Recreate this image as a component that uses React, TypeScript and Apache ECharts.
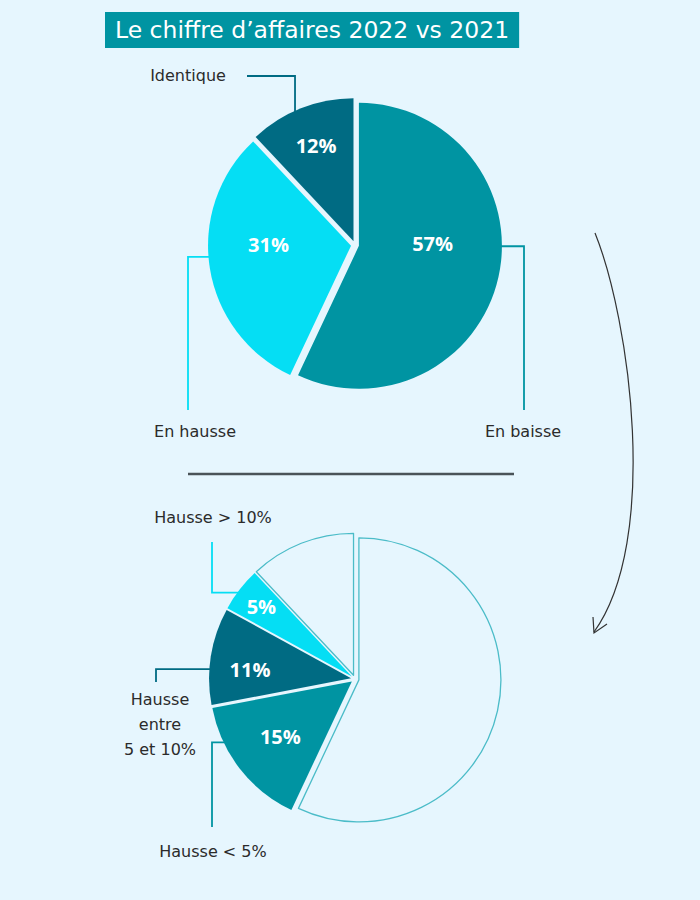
import React, { useEffect, useRef } from "react";
import * as echarts from "echarts";

// ---------- data ----------
const TITLE = "Le chiffre d’affaires 2022 vs 2021";

const TOP_NAMES = ["En baisse", "En hausse", "Identique"];
const TOP_VALUES = [57, 31, 12];

const BOTTOM_NAMES = ["En baisse", "Hausse < 5%", "Hausse\nentre\n5 et 10%", "Hausse > 10%", "Identique"];
const BOTTOM_VALUES = [57, 15, 11, 5, 12];
const BOTTOM_HIGHLIGHT = [false, true, true, true, false];

// ---------- styles ----------
const BG = "#e6f6fe";
const TEAL = "#0094a2";
const CYAN = "#05def4";
const DARK = "#006b83";
const OUTLINE = "#4bbcc8";
const TEXT = "#2b2b2b";
const FONT = "'DejaVu Sans', Inter, sans-serif";
const PCT_FONT = "'Open Sans', 'Noto Sans', sans-serif";

const TOP_COLORS = [TEAL, CYAN, DARK];
const BOTTOM_COLORS = [BG, TEAL, DARK, CYAN, BG];

const TOP_CENTER = [355, 245];
const TOP_R = 143;
const BOT_CENTER = [355, 679];
const BOT_R = 142;

// percent-label nudges (dx, dy) from the library's inside position
const TOP_PCT_SHIFT = [[1, -19], [-9, -13], [-10, -27]];
const BOT_PCT_SHIFT = [[0, 0], [-13, 10], [-28, 3], [-32, -25], [0, 0]];

type Callout = { ang: number; horiz: boolean; ex: number; ey: number; lx: number; ly: number } | null;

function rimPoint(c: number[], r: number, deg: number) {
  const a = (deg * Math.PI) / 180;
  return [c[0] + r * Math.sin(a), c[1] - r * Math.cos(a)];
}

const TOP_CALLOUTS: Callout[] = [
  { ang: 90.5, horiz: true, ex: 524, ey: 410, lx: 523, ly: 431 },
  { ang: 265.2, horiz: true, ex: 188, ey: 410, lx: 195, ly: 431 },
  { ang: 335.2, horiz: false, ex: 294, ey: 76, lx: 188, ly: 75 },
];
const BOT_CALLOUTS: Callout[] = [
  null,
  { ang: 243.5, horiz: true, ex: 212, ey: 827, lx: 213, ly: 851 },
  { ang: 274.0, horiz: true, ex: 156, ey: 682, lx: 160, ly: 724 },
  { ang: 307.5, horiz: true, ex: 212, ey: 542, lx: 213, ly: 517 },
  null,
];

function makeLabelLayout(callouts: Callout[], c: number[], r: number) {
  return (params: any) => {
    const k = callouts[params.dataIndex];
    if (!k) return {};
    const p = rimPoint(c, r, k.ang);
    let pts: number[][];
    if (k.horiz) {
      pts = [p, [k.ex, p[1]], [k.ex, k.ey]];
    } else {
      pts = [[p[0], p[1]], [p[0], k.ey], [k.ex - 47, k.ey]];
    }
    return {
      x: k.lx,
      y: k.ly,
      align: "center",
      verticalAlign: "middle",
      labelLinePoints: pts,
    };
  };
}

function pctShift(shifts: number[][]) {
  return (params: any) => {
    const s = shifts[params.dataIndex] || [0, 0];
    return { dx: s[0], dy: s[1] };
  };
}

export default function App() {
  const ref = useRef<HTMLDivElement>(null);

  useEffect(() => {
    document.body.style.margin = "0";
    document.body.style.background = BG;
    if (!ref.current) return;
    const chart = echarts.init(ref.current, undefined, { renderer: "svg" });

    const topData = TOP_VALUES.map((v, i) => ({
      value: v,
      name: TOP_NAMES[i],
      selected: true,
      itemStyle: { color: TOP_COLORS[i], borderWidth: 0 },
      select: { itemStyle: { color: TOP_COLORS[i], borderWidth: 0 } },
    }));

    const botData = BOTTOM_VALUES.map((v, i) => {
      const st = BOTTOM_HIGHLIGHT[i]
        ? { color: BOTTOM_COLORS[i], borderWidth: 0 }
        : { color: BG, borderColor: OUTLINE, borderWidth: 1.3 };
      return {
        value: v,
        name: BOTTOM_NAMES[i],
        selected: true,
        itemStyle: st,
        select: { itemStyle: st },
        label: { show: BOTTOM_HIGHLIGHT[i] },
      };
    });

    const topLabelData = TOP_VALUES.map((v, i) => ({
      value: v,
      name: TOP_NAMES[i],
      labelLine: { lineStyle: { color: TOP_COLORS[i] } },
    }));
    const botLabelData = BOTTOM_VALUES.map((v, i) => ({
      value: v,
      name: BOTTOM_NAMES[i],
      label: { show: BOTTOM_HIGHLIGHT[i] },
      labelLine: { show: BOTTOM_HIGHLIGHT[i], lineStyle: { color: BOTTOM_COLORS[i] } },
    }));

    const pctLabel = {
      show: true,
      position: "inside",
      formatter: "{c}%",
      color: "#ffffff",
      fontFamily: PCT_FONT,
      fontWeight: "bold",
      fontSize: 20,
    };
    const nameLabel = {
      show: true,
      position: "outside",
      formatter: "{b}",
      color: TEXT,
      fontFamily: FONT,
      fontWeight: "normal",
      fontSize: 16,
      lineHeight: 25,
      align: "center",
    };
    const ghost = {
      type: "pie",
      silent: true,
      startAngle: 90,
      clockwise: true,
      itemStyle: { color: "rgba(0,0,0,0)", borderWidth: 0 },
      emphasis: { disabled: true },
      labelLine: { show: true, lineStyle: { width: 1.8 } },
      z: 1,
    };

    chart.setOption({
      animation: false,
      backgroundColor: BG,
      title: {
        text: TITLE,
        left: 105,
        top: 12,
        backgroundColor: TEAL,
        padding: [5, 10, 5, 10],
        textStyle: {
          color: "#ffffff",
          fontFamily: FONT,
          fontWeight: "normal",
          fontSize: 23.5,
          lineHeight: 26,
        },
      },
      series: [
        {
          ...ghost,
          center: TOP_CENTER,
          radius: TOP_R,
          data: topLabelData,
          label: nameLabel,
          labelLayout: makeLabelLayout(TOP_CALLOUTS, TOP_CENTER, TOP_R),
        },
        {
          type: "pie",
          center: TOP_CENTER,
          radius: TOP_R,
          startAngle: 90,
          clockwise: true,
          selectedMode: "multiple",
          selectedOffset: 4,
          silent: true,
          emphasis: { disabled: true },
          data: topData,
          label: pctLabel,
          labelLine: { show: false },
          labelLayout: pctShift(TOP_PCT_SHIFT),
          z: 2,
        },
        {
          ...ghost,
          center: BOT_CENTER,
          radius: BOT_R,
          data: botLabelData,
          label: nameLabel,
          labelLayout: makeLabelLayout(BOT_CALLOUTS, BOT_CENTER, BOT_R),
        },
        {
          type: "pie",
          center: BOT_CENTER,
          radius: BOT_R,
          startAngle: 90,
          clockwise: true,
          selectedMode: "multiple",
          selectedOffset: 4,
          silent: true,
          emphasis: { disabled: true },
          data: botData,
          label: pctLabel,
          labelLine: { show: false },
          labelLayout: pctShift(BOT_PCT_SHIFT),
          z: 2,
        },
      ],
      graphic: [
        {
          type: "line",
          shape: { x1: 188, y1: 474, x2: 514, y2: 474 },
          style: { stroke: "#4a5358", lineWidth: 2.5 },
        },
        {
          type: "bezierCurve",
          shape: { x1: 595, y1: 233, cpx1: 630, cpy1: 320, cpx2: 660, cpy2: 540, x2: 594, y2: 632 },
          style: { stroke: "#333333", lineWidth: 1.2, fill: null },
        },
        {
          type: "polyline",
          shape: { points: [[593, 617], [594, 633], [607, 624]] },
          style: { stroke: "#333333", lineWidth: 1.2, fill: null },
        },
      ],
    });

    return () => chart.dispose();
  }, []);

  return <div ref={ref} style={{ width: 700, height: 900, background: BG }} />;
}
